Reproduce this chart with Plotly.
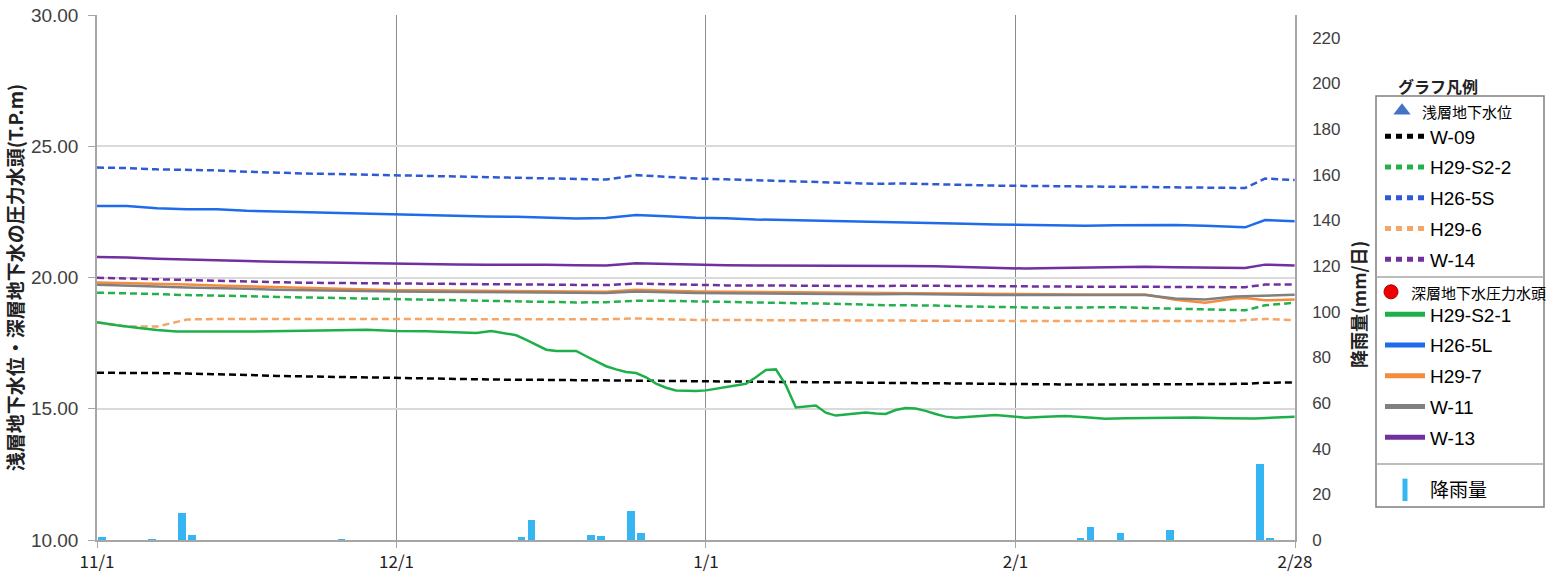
import pandas as pd
import plotly.graph_objects as go

# ---------------- data ----------------
base_date = "2017-11-01"

# day offsets from 11/1 for the shared sampling of the water-level series
level_days = [0, 3, 6, 9, 12, 15, 18, 21, 24, 27,
              30, 33, 36, 39, 42, 45, 48, 51, 54, 57,
              60, 63, 66, 69, 72, 75, 78, 81, 84, 87,
              90, 93, 96, 99, 102, 105, 108, 111, 114, 115, 117, 119.96]

w09 = [16.37, 16.37, 16.36, 16.34, 16.32, 16.29, 16.25, 16.23, 16.21, 16.18,
       16.16, 16.14, 16.12, 16.10, 16.10, 16.10, 16.09, 16.09, 16.08, 16.06,
       16.05, 16.04, 16.03, 16.02, 16.00, 15.99, 15.97, 15.96, 15.95, 15.94,
       15.93, 15.92, 15.92, 15.92, 15.92, 15.93, 15.93, 15.93, 15.94, 15.95, 15.99, 16.00]
h29_s2_2 = [19.42, 19.40, 19.37, 19.33, 19.32, 19.29, 19.26, 19.24, 19.22, 19.20,
            19.19, 19.17, 19.14, 19.11, 19.09, 19.08, 19.05, 19.06, 19.11, 19.11,
            19.09, 19.08, 19.06, 19.04, 19.02, 18.99, 18.95, 18.95, 18.93, 18.90,
            18.87, 18.86, 18.85, 18.86, 18.87, 18.84, 18.81, 18.78, 18.75, 18.75, 18.94, 19.04]
h26_5s = [24.19, 24.17, 24.12, 24.10, 24.08, 24.03, 23.99, 23.96, 23.94, 23.92,
          23.90, 23.87, 23.84, 23.82, 23.80, 23.79, 23.75, 23.73, 23.90, 23.84,
          23.77, 23.74, 23.71, 23.67, 23.63, 23.60, 23.57, 23.58, 23.55, 23.52,
          23.50, 23.49, 23.48, 23.48, 23.47, 23.46, 23.45, 23.43, 23.41, 23.41, 23.77, 23.71]
h29_6 = [18.29, 18.13, 18.13, 18.40, 18.42, 18.42, 18.42, 18.42, 18.42, 18.42,
         18.42, 18.42, 18.42, 18.41, 18.41, 18.41, 18.40, 18.41, 18.44, 18.41,
         18.38, 18.38, 18.38, 18.37, 18.37, 18.36, 18.36, 18.36, 18.35, 18.35,
         18.35, 18.34, 18.34, 18.34, 18.34, 18.34, 18.34, 18.34, 18.34, 18.38, 18.42, 18.38]
w14 = [19.99, 19.96, 19.93, 19.89, 19.87, 19.85, 19.82, 19.80, 19.79, 19.77,
       19.76, 19.75, 19.74, 19.73, 19.72, 19.72, 19.71, 19.71, 19.77, 19.74,
       19.71, 19.70, 19.70, 19.69, 19.68, 19.68, 19.67, 19.69, 19.68, 19.67,
       19.66, 19.66, 19.65, 19.65, 19.65, 19.64, 19.64, 19.63, 19.63, 19.63, 19.73, 19.73]
h26_5l = [22.72, 22.72, 22.64, 22.60, 22.60, 22.54, 22.51, 22.48, 22.46, 22.43,
          22.40, 22.38, 22.35, 22.32, 22.31, 22.28, 22.25, 22.27, 22.38, 22.33,
          22.28, 22.26, 22.21, 22.19, 22.17, 22.15, 22.12, 22.10, 22.08, 22.05,
          22.02, 22.00, 21.99, 21.97, 21.99, 22.00, 22.00, 21.97, 21.93, 21.91, 22.19, 22.14]
h29_7 = [19.81, 19.79, 19.76, 19.73, 19.70, 19.67, 19.63, 19.59, 19.57, 19.55,
         19.51, 19.51, 19.50, 19.49, 19.48, 19.47, 19.46, 19.46, 19.53, 19.49,
         19.47, 19.46, 19.45, 19.44, 19.43, 19.41, 19.40, 19.40, 19.39, 19.38,
         19.36, 19.35, 19.35, 19.35, 19.35, 19.35, 19.15, 19.04, 19.20, 19.22, 19.13, 19.16]
w11 = [19.72, 19.70, 19.66, 19.62, 19.60, 19.57, 19.53, 19.51, 19.50, 19.48,
       19.47, 19.46, 19.45, 19.44, 19.43, 19.42, 19.41, 19.41, 19.47, 19.43,
       19.41, 19.40, 19.39, 19.38, 19.37, 19.36, 19.36, 19.37, 19.35, 19.34,
       19.33, 19.33, 19.33, 19.33, 19.33, 19.33, 19.20, 19.16, 19.28, 19.29, 19.30, 19.34]
w13 = [20.78, 20.76, 20.71, 20.69, 20.67, 20.63, 20.60, 20.58, 20.56, 20.54,
       20.52, 20.51, 20.50, 20.49, 20.50, 20.49, 20.47, 20.46, 20.54, 20.51,
       20.48, 20.47, 20.46, 20.46, 20.45, 20.44, 20.44, 20.44, 20.43, 20.40,
       20.36, 20.34, 20.36, 20.38, 20.41, 20.41, 20.39, 20.37, 20.35, 20.36, 20.49, 20.46]

# H29-S2-1 changes a lot, so it is read more densely
s2_1_days = [0, 2, 4, 6, 8, 10, 12, 15, 18, 21,
             24, 27, 30, 33, 36, 38, 39.5, 41, 42, 43,
             44, 45, 46, 47, 48, 49, 50, 51, 52, 53,
             54, 55, 56, 57, 58, 60, 61, 63, 65, 66,
             67, 68, 69, 70, 71, 72, 73, 74, 75, 76,
             77, 78, 79, 80, 81, 82, 83, 84, 85, 86,
             88, 90, 92, 93, 95, 97, 99, 101, 103, 106,
             110, 113, 116, 119.96]
h29_s2_1 = [18.30, 18.18, 18.09, 18.00, 17.94, 17.93, 17.94, 17.94, 17.95, 17.97,
            17.99, 18.01, 17.96, 17.95, 17.92, 17.89, 17.96, 17.88, 17.80, 17.62,
            17.42, 17.25, 17.20, 17.20, 17.20, 17.00, 16.80, 16.62, 16.50, 16.40,
            16.36, 16.20, 15.96, 15.80, 15.70, 15.68, 15.70, 15.82, 15.95, 16.20,
            16.48, 16.50, 15.90, 15.05, 15.08, 15.12, 14.85, 14.74, 14.78, 14.82,
            14.86, 14.82, 14.80, 14.95, 15.03, 15.01, 14.92, 14.80, 14.70, 14.66,
            14.72, 14.76, 14.70, 14.66, 14.70, 14.72, 14.68, 14.62, 14.64, 14.66,
            14.67, 14.64, 14.63, 14.70]

rain_dates = ["2017-11-01", "2017-11-06", "2017-11-09", "2017-11-10", "2017-11-25",
              "2017-12-13", "2017-12-14", "2017-12-20", "2017-12-21", "2017-12-24",
              "2017-12-25", "2018-02-07", "2018-02-08", "2018-02-11", "2018-02-16",
              "2018-02-25", "2018-02-26"]
rain_mm = [1.2, 0.3, 11.8, 2.3, 0.2, 1.1, 8.6, 2.3, 1.7, 12.7, 2.9, 0.7, 5.8, 3.2, 4.4, 33.3, 1.0]

x_tickvals = ["2017-11-01", "2017-12-01", "2018-01-01", "2018-02-01", "2018-03-01"]
x_ticktext = ["11/1", "12/1", "1/1", "2/1", "2/28"]
y_tickvals = [10, 15, 20, 25, 30]
y2_tickvals = [0, 20, 40, 60, 80, 100, 120, 140, 160, 180, 200, 220]

shallow = [("W-09", w09, "#000000"),
           ("H29-S2-2", h29_s2_2, "#22B14C"),
           ("H26-5S", h26_5s, "#2E5AD6"),
           ("H29-6", h29_6, "#F5A565"),
           ("W-14", w14, "#7030A0")]
deep = [("H29-S2-1", h29_s2_1, "#1DB04A"),
        ("H26-5L", h26_5l, "#1F6BEA"),
        ("H29-7", h29_7, "#F68B3C"),
        ("W-11", w11, "#808080"),
        ("W-13", w13, "#7030A0")]

# ---------------- figure ----------------
W, H = 1546, 576
ML, MR, MT, MB = 97, 251, 15, 36
PW, PH = W - ML - MR, H - MT - MB


def fx(px):
    return (px - ML) / PW


def fy(py):
    return (H - MB - py) / PH


LAT = "Liberation Sans, Arial, Noto Sans CJK JP"
JP = "Noto Sans CJK JP, sans-serif"

base = pd.Timestamp(base_date)
x_level = base + pd.to_timedelta(level_days, unit="D")
x_s21 = base + pd.to_timedelta(s2_1_days, unit="D")

fig = go.Figure()

# rainfall bars (secondary axis)
fig.add_trace(go.Bar(x=rain_dates, y=rain_mm, yaxis="y2", name="降雨量",
                     xperiod=86400000, xperiodalignment="middle",
                     width=0.75 * 86400000, marker=dict(color="#35B6F2", line=dict(width=0)),
                     legendgroup="rain", showlegend=False))

# legend header: shallow
fig.add_trace(go.Scatter(x=[None], y=[None], mode="markers", name="<span style='font-size:15px'>浅層地下水位</span>",
                         marker=dict(symbol="triangle-up", size=15, color="#4472C4"),
                         legend="legend"))
for i, (nm, vals, col) in enumerate(shallow):
    # data line
    fig.add_trace(go.Scatter(x=x_level, y=vals, mode="lines", name=nm,
                             legendgroup="s%d" % i, showlegend=False,
                             line=dict(color=col, width=2.5, dash="7px,4px")))
    # legend key (heavier square-dot sample, like the original legend)
    fig.add_trace(go.Scatter(x=[None], y=[None], mode="lines", name=nm, legend="legend2",
                             legendgroup="s%d" % i,
                             line=dict(color=col, width=5, dash="6px,5px")))

fig.add_trace(go.Scatter(x=[None], y=[None], mode="markers", name="<span style='font-size:15px'>深層地下水圧力水頭</span>",
                         marker=dict(symbol="circle", size=14, color="#F00000", line=dict(color="#A00000", width=1)),
                         legend="legend3"))
for i, (nm, vals, col) in enumerate(deep):
    xs = x_s21 if nm == "H29-S2-1" else x_level
    fig.add_trace(go.Scatter(x=xs, y=vals, mode="lines", name=nm,
                             legendgroup="d%d" % i, showlegend=False,
                             line=dict(color=col, width=2.5)))
    fig.add_trace(go.Scatter(x=[None], y=[None], mode="lines", name=nm, legend="legend4",
                             legendgroup="d%d" % i,
                             line=dict(color=col, width=5)))

# legend entry for rainfall
fig.add_trace(go.Scatter(x=[None], y=[None], mode="markers", name="降雨量", legend="legend5",
                         legendgroup="rain",
                         marker=dict(symbol="line-ns", size=16, color="#35B6F2",
                                     line=dict(color="#35B6F2", width=5))))

leg_common = dict(bgcolor="rgba(0,0,0,0)", borderwidth=0, xanchor="left", yanchor="middle",
                  font=dict(family=LAT, size=19, color="#000000"), traceorder="grouped")

fig.update_layout(
    width=W, height=H,
    margin=dict(l=ML, r=MR, t=MT, b=MB, autoexpand=False),
    paper_bgcolor="white", plot_bgcolor="white",
    bargap=0,
    xaxis=dict(type="date", range=["2017-11-01", "2018-03-01"],
               tickvals=x_tickvals, ticktext=x_ticktext,
               showgrid=True, gridcolor="#8C8C8C", gridwidth=1,
               showline=True, linecolor="#A6A6A6", linewidth=1.5,
               ticks="outside", ticklen=6, tickcolor="#A6A6A6",
               tickfont=dict(family=JP, size=17, color="#222222")),
    yaxis=dict(range=[10, 30], tickvals=y_tickvals, tickformat=".2f",
               showgrid=True, gridcolor="#D9D9D9", gridwidth=1.5,
               showline=True, linecolor="#A6A6A6", linewidth=1.5,
               ticks="outside", ticklen=7, tickcolor="#A6A6A6",
               ticklabelstandoff=6,
               tickfont=dict(family=LAT, size=19, color="#404040"),
               title=dict(text="<b>浅層地下水位・深層地下水の圧力水頭(T.P.m)</b>",
                          font=dict(family=JP, size=19, color="#222222"), standoff=2),
               zeroline=False),
    yaxis2=dict(range=[0, 230], tickvals=y2_tickvals, overlaying="y", side="right",
                showgrid=False, showline=True, linecolor="#A6A6A6", linewidth=1.5,
                ticks="", ticklabelstandoff=12,
                tickfont=dict(family=LAT, size=17, color="#404040"), zeroline=False),
    legend=dict(leg_common, x=fx(1382), y=fy(111)),
    legend2=dict(leg_common, x=fx(1380), y=fy(198), itemwidth=40, tracegroupgap=3),
    legend3=dict(leg_common, x=fx(1371), y=fy(292)),
    legend4=dict(leg_common, x=fx(1380), y=fy(376), itemwidth=40, tracegroupgap=3),
    legend5=dict(leg_common, x=fx(1380), y=fy(490), itemwidth=40),
    annotations=[
        dict(text="<b>グラフ凡例</b>", x=fx(1438), y=fy(86), xref="paper", yref="paper",
             xanchor="center", yanchor="middle",
             showarrow=False, font=dict(family=JP, size=16, color="#222222")),
        dict(text="<b>降雨量(mm/日)</b>", x=fx(1358), y=fy(305), xref="paper", yref="paper",
             xanchor="center", yanchor="middle",
             textangle=-90, showarrow=False, font=dict(family=JP, size=18, color="#222222")),
    ],
    shapes=[
        dict(type="rect", xref="paper", yref="paper", x0=fx(1376), x1=fx(1544), y0=fy(507), y1=fy(96),
             line=dict(color="#7F7F7F", width=1.5)),
        dict(type="line", xref="paper", yref="paper", x0=fx(1376), x1=fx(1544), y0=fy(277), y1=fy(277),
             line=dict(color="#A6A6A6", width=1.5)),
        dict(type="line", xref="paper", yref="paper", x0=fx(1376), x1=fx(1544), y0=fy(464), y1=fy(464),
             line=dict(color="#A6A6A6", width=1.5)),
    ],
)

fig.write_html("out.html")
